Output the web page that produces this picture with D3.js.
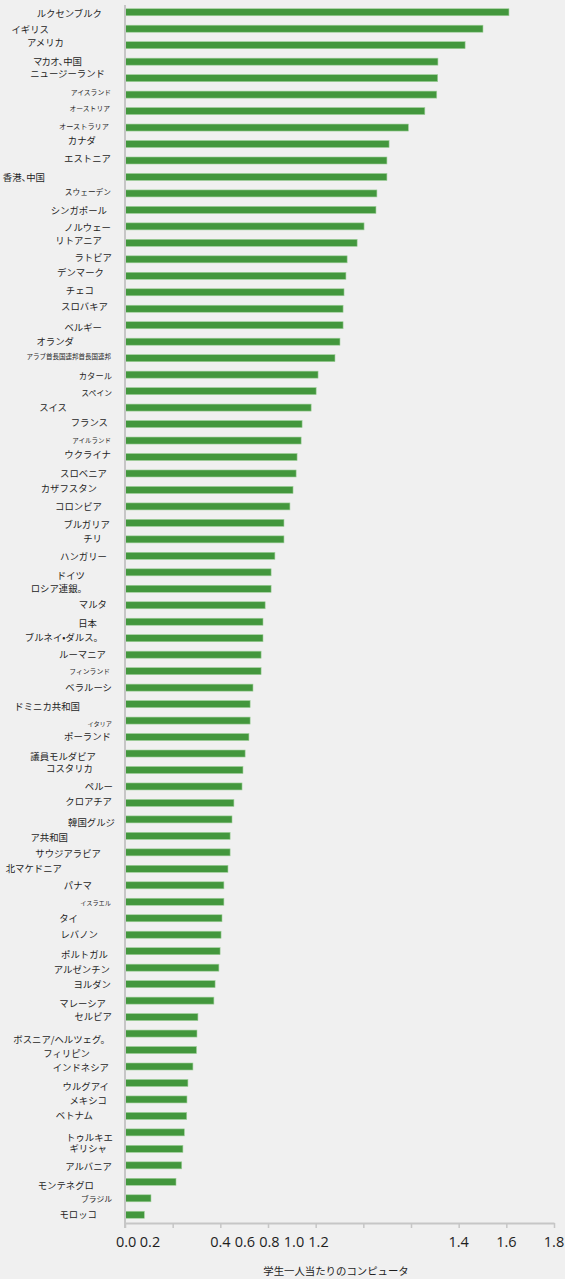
<!DOCTYPE html>
<html>
<head>
<meta charset="utf-8">
<script src="https://cdn.jsdelivr.net/npm/d3@7"></script>
<style>
  html, body { margin: 0; padding: 0; background: #f0f0f0; }
  svg { display: block; }
  .narrow-punct { font-feature-settings: "palt"; }
</style>
</head>
<body>
<svg width="565" height="1279"></svg>
<script>
// countries, top to bottom
const countries = [
  'ルクセンブルク', 'イギリス', 'アメリカ', 'マカオ、中国', 'ニュージーランド',
  'アイスランド', 'オーストリア', 'オーストラリア', 'カナダ', 'エストニア',
  '香港、中国', 'スウェーデン', 'シンガポール', 'ノルウェー', 'リトアニア',
  'ラトビア', 'デンマーク', 'チェコ', 'スロバキア', 'ベルギー',
  'オランダ', 'アラブ首長国連邦首長国連邦', 'カタール', 'スペイン', 'スイス',
  'フランス', 'アイルランド', 'ウクライナ', 'スロベニア', 'カザフスタン',
  'コロンビア', 'ブルガリア', 'チリ', 'ハンガリー', 'ドイツ',
  'ロシア連銀。', 'マルタ', '日本', 'ブルネイ•ダルス。', 'ルーマニア',
  'フィンランド', 'ベラルーシ', 'ドミニカ共和国', 'イタリア', 'ポーランド',
  '議員モルダビア', 'コスタリカ', 'ペルー', 'クロアチア', '韓国グルジ',
  'ア共和国', 'サウジアラビア', '北マケドニア', 'パナマ', 'イスラエル',
  'タイ', 'レバノン', 'ポルトガル', 'アルゼンチン', 'ヨルダン',
  'マレーシア', 'セルビア', 'ボスニア/ヘルツェグ。', 'フィリピン', 'インドネシア',
  'ウルグアイ', 'メキシコ', 'ベトナム', 'トゥルキエ', 'ギリシャ',
  'アルバニア', 'モンテネグロ', 'ブラジル', 'モロッコ'
];

// computers per student
const computers = [
  1.611, 1.502, 1.427, 1.313, 1.312,
  1.308, 1.258, 1.189, 1.108, 1.099,
  1.099, 1.057, 1.053, 1.003, 0.974,
  0.932, 0.927, 0.919, 0.915, 0.915,
  0.902, 0.881, 0.810, 0.802, 0.781,
  0.743, 0.739, 0.722, 0.718, 0.705,
  0.692, 0.667, 0.667, 0.629, 0.613,
  0.613, 0.588, 0.579, 0.579, 0.571,
  0.571, 0.537, 0.525, 0.525, 0.520,
  0.504, 0.495, 0.491, 0.457, 0.449,
  0.441, 0.441, 0.432, 0.415, 0.415,
  0.407, 0.403, 0.399, 0.394, 0.378,
  0.373, 0.306, 0.302, 0.300, 0.285,
  0.264, 0.260, 0.259, 0.249, 0.243,
  0.238, 0.214, 0.109, 0.081
];

// x ticks; the original puts some tick labels off their ticks
const tickValues = [0, 0.2, 0.4, 0.6, 0.8, 1.0, 1.2, 1.4, 1.6, 1.8];
const tickLabels = ['0.0', '0.2', '0.4', '0.6', '0.8', '1.0', '1.2', '1.4', '1.6', '1.8'];
const tickLabelAt = [0.005, 0.105, 0.4, 0.503, 0.606, 0.709, 0.812, 1.4, 1.6, 1.8];

const axisTitle = '学生一人当たりのコンピュータ';

// label layout (the labels in the original are placed unevenly)
const labelRight = [
  102, 49, 64, 82, 105, 111, 110, 109, 96, 111,
  45, 111, 107, 111, 102, 112, 104, 94, 108, 102,
  74, 111, 112, 112, 67, 108, 111, 111, 107, 97,
  102, 110, 102, 107, 85, 87, 107, 97, 103, 106,
  110, 112, 80, 112, 111, 96, 93, 113, 112, 115,
  68, 101, 62, 92, 111, 78, 98, 108, 110, 111,
  106, 112, 110, 90, 109, 109, 107, 93, 113, 107,
  112, 94, 112, 97
];
const labelDy = [
  1, 1, -2, 0, -4, -2, -2, -1, -3, -2,
  1, -1, 1, 1, -2, -2, -3, -2, -2, 2,
  0, -1, 1, 2, 0, -1, 0, -2, 0, -1,
  0, 2, -1, 1, 3, 0, -1, 2, 0, 0,
  0, 0, 3, 3, 0, 3, -1, 0, -1, 3,
  2, 1, 0, 0, 1, 0, 0, 4, 2, 1,
  3, 0, 6, 4, 1, 4, 1, 0, 5, 0,
  1, 4, 1, 0
];
const smallLabelSize = {
  'アイスランド': 6.8, 'オーストリア': 6.8, 'オーストラリア': 7.2, 'スウェーデン': 7.7,
  'アラブ首長国連邦首長国連邦': 6.5, 'スペイン': 7.8, 'アイルランド': 6.5,
  'フィンランド': 6.8, 'イタリア': 6.2, 'イスラエル': 6.2, 'ブラジル': 7.8, 'カタール': 8.3
};

function renderChart() {
  const svg = d3.select('svg');

  // scales
  const x = d3.scaleLinear().domain([0, 1.8]).range([125, 554]);
  const y = d3.scaleBand()
    .domain(countries)
    .range([4, 1223])
    .paddingInner(0.575)
    .paddingOuter(0.2875);

  const rows = countries.map((c, i) => ({ name: c, value: computers[i], i: i }));

  // bars
  svg.append('g')
    .selectAll('rect')
    .data(rows)
    .join('rect')
      .attr('x', x(0))
      .attr('y', d => y(d.name))
      .attr('width', d => x(d.value) - x(0))
      .attr('height', y.bandwidth())
      .attr('fill', '#43973d')
      .attr('stroke', '#9fcf9a')
      .attr('stroke-width', 0.6);

  // country labels
  svg.append('g')
    .selectAll('text')
    .data(rows)
    .join('text')
      .attr('class', d => d.name.includes('、') ? 'narrow-punct' : null)
      .attr('x', d => labelRight[d.i])
      .attr('y', d => y(d.name) + y.bandwidth() / 2 + labelDy[d.i])
      .attr('dy', '0.35em')
      .attr('text-anchor', 'end')
      .attr('font-family', '"Noto Sans CJK JP", "Noto Sans", sans-serif')
      .attr('font-size', d => (smallLabelSize[d.name] || 9.4) + 'px')
      .attr('fill', '#1e1e1e')
      .text(d => d.name);

  // x axis: ticks only, labels placed separately
  const xAxis = d3.axisBottom(x)
    .tickValues(tickValues)
    .tickFormat('')
    .tickSize(5)
    .tickSizeOuter(0);

  const gx = svg.append('g')
    .attr('transform', 'translate(0,1223)')
    .call(xAxis);
  gx.select('.domain').attr('stroke', '#c6c6c6').attr('stroke-width', 2);
  gx.selectAll('.tick line').attr('stroke', '#c6c6c6').attr('stroke-width', 1.5);

  // y axis line
  svg.append('line')
    .attr('x1', x(0)).attr('x2', x(0))
    .attr('y1', 5).attr('y2', 1228)
    .attr('stroke', '#c6c6c6')
    .attr('stroke-width', 2);

  svg.append('g')
    .selectAll('text')
    .data(tickLabels)
    .join('text')
      .attr('x', (d, i) => x(tickLabelAt[i]))
      .attr('y', 1247)
      .attr('text-anchor', 'middle')
      .attr('font-family', '"Open Sans", "Noto Sans", sans-serif')
      .attr('font-size', '14.5px')
      .attr('fill', '#1e1e1e')
      .text(d => d);

  // axis title
  svg.append('text')
    .attr('x', 336)
    .attr('y', 1275)
    .attr('text-anchor', 'middle')
    .attr('font-family', '"Noto Sans CJK JP", "Noto Sans", sans-serif')
    .attr('font-size', '10.4px')
    .attr('fill', '#1e1e1e')
    .text(axisTitle);
}

window.onload = renderChart;
</script>
</body>
</html>
